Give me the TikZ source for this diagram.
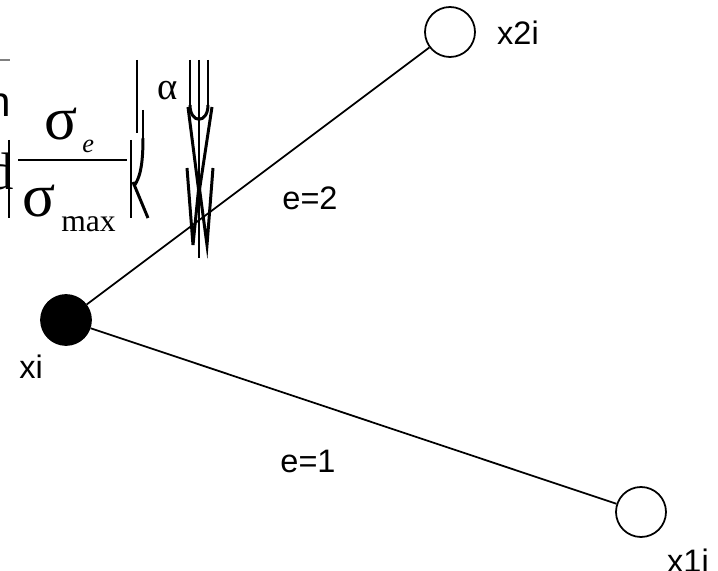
\documentclass[tikz,border=0pt]{standalone}
\usepackage{fontspec}
\setmainfont{Liberation Sans}
\newfontfamily\symbfont{Liberation Serif}
\usetikzlibrary{positioning}

\begin{document}
\begin{tikzpicture}[x=0.02cm,y=-0.02cm,
  vertex/.style={circle,draw,line width=1pt,minimum size=1cm,inner sep=0pt},
  lbl/.style={font=\fontsize{18.5}{21}\selectfont,inner sep=0pt},
  glyph/.style={inner sep=0pt,anchor=base west},
  stroke/.style={line width=1.7pt}]
\useasboundingbox (0,0) rectangle (718,571);
\node[vertex,fill=black] (xi) at (66,320) {};
\node[vertex] (x2i) at (450,32) {};
\node[vertex] (x1i) at (641,512) {};
\node[lbl] (xilbl) at (31,367) {xi};
\node[lbl] (x2ilbl) at (518,33) {x2i};
\node[lbl] (x1ilbl) at (688,561) {x1i};
\draw[line width=1pt] (xi) -- (x2i);
\draw[line width=1pt] (xi) -- (x1i);
\node[lbl] (e2) at (310,198) {e=2};
\node[lbl] (e1) at (308,461) {e=1};

\node[glyph,font=\fontsize{24}{24}\selectfont] (nfrag) at (-13,117) {n};
\draw[gray,line width=0.6pt] (0,60) -- (10,60);
\node[glyph,font=\symbfont\fontsize{30}{30}\selectfont] (dfrag) at (-13,190) {d};
\node[glyph,font=\symbfont\fontsize{35}{35}\selectfont] (sige) at (44,140) {σ};
\node[glyph,font=\symbfont\itshape\fontsize{15}{15}\selectfont] (sube) at (82,153) {e};
\draw[line width=1.3pt] (18,160) -- (127,160);
\node[glyph,font=\symbfont\fontsize{35}{35}\selectfont] (sigmax) at (22,217) {σ};
\node[glyph,font=\symbfont\fontsize{18}{18}\selectfont] (max) at (61,232) {max};
\node[glyph,font=\symbfont\fontsize{22}{22}\selectfont] (alpha) at (157,100) {α};

\draw[stroke] (9,140) -- (9,218);
\draw[stroke] (131,140) -- (131,218);
\draw[stroke] (137,60) -- (137,133);
\draw[stroke] (143,110) -- (143,138);
\draw[stroke] (143,138) .. controls (143,165) and (140,178) .. (134,186);
\draw[stroke] (133,182) -- (148,218);

\draw[stroke] (190,60) -- (190,105);
\draw[stroke] (199,60) -- (199,258);
\draw[stroke] (208,60) -- (208,105);
\draw[stroke] (190,105) .. controls (190,124) and (208,124) .. (208,105);
\draw[stroke] (188,107) -- (199,193) -- (212,107);
\draw[stroke] (187,168) -- (193,245) -- (199,185) -- (207,245) -- (213,168);
\end{tikzpicture}
\end{document}
